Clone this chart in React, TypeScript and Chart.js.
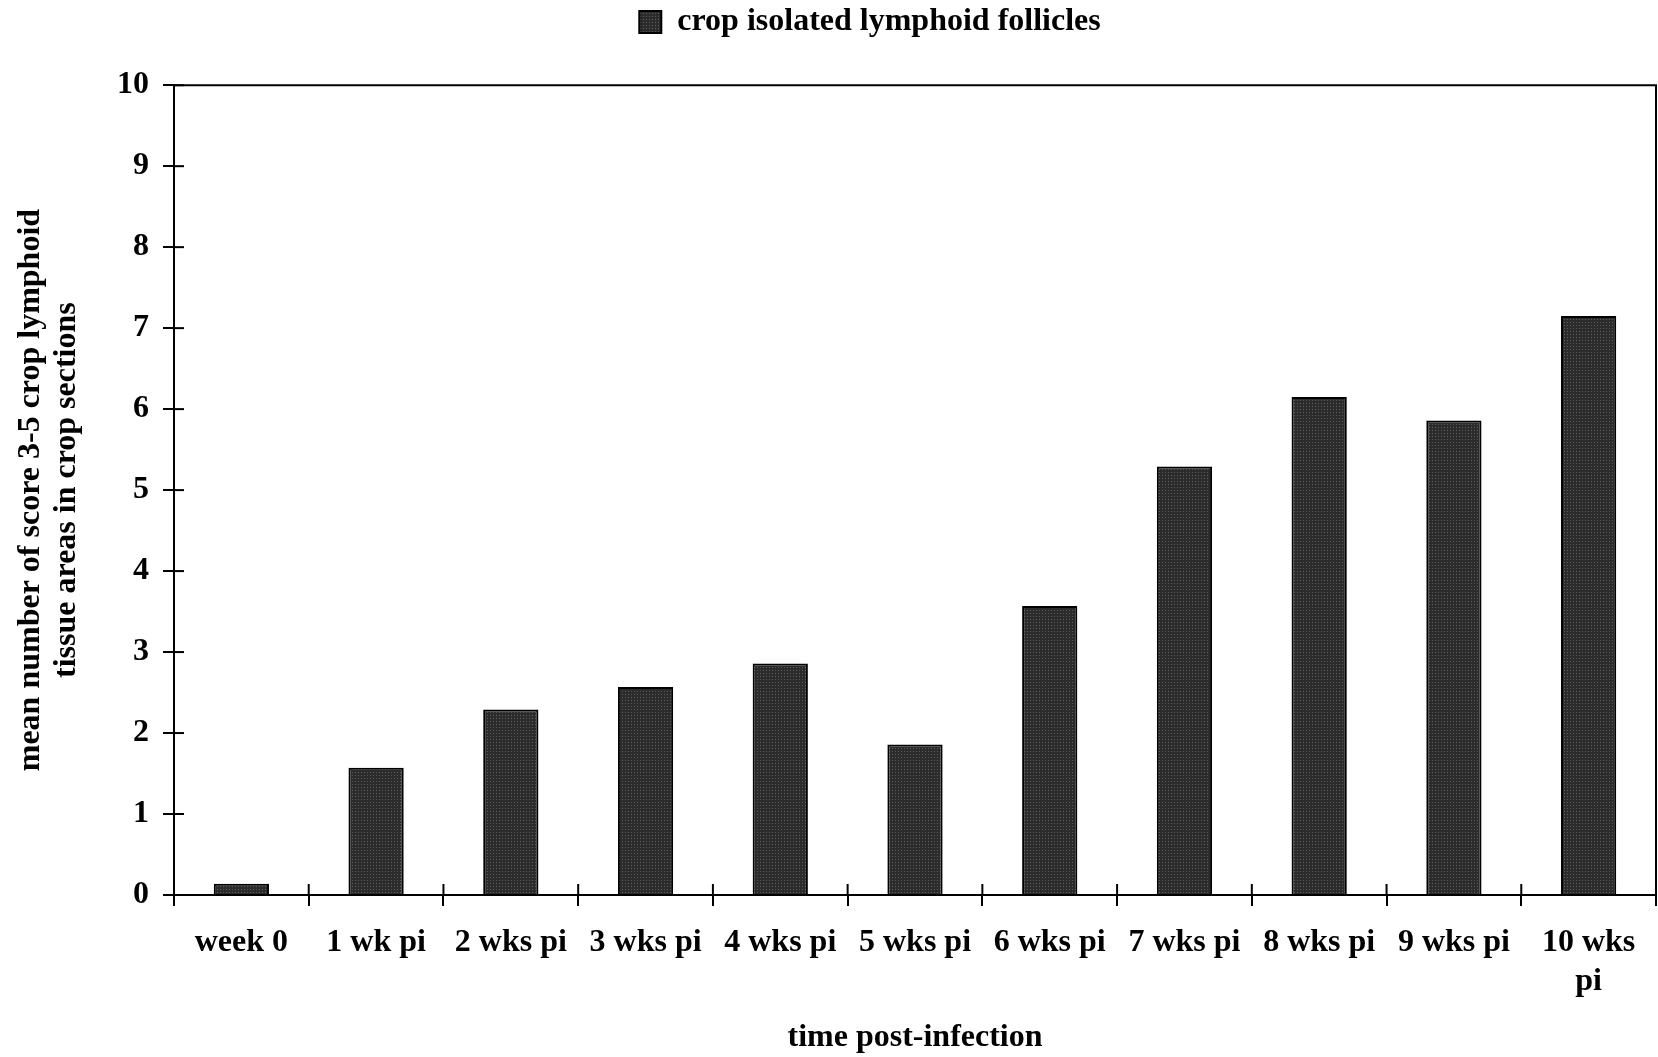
import React, { useEffect, useRef } from "react";
import { Chart, registerables } from "chart.js";

Chart.register(...registerables);

const categories: (string | string[])[] = [
  "week 0",
  "1 wk pi",
  "2 wks pi",
  "3 wks pi",
  "4 wks pi",
  "5 wks pi",
  "6 wks pi",
  "7 wks pi",
  "8 wks pi",
  "9 wks pi",
  ["10 wks", "pi"],
];
const follicleValues = [0.14, 1.57, 2.29, 2.57, 2.86, 1.86, 3.57, 5.29, 6.15, 5.86, 7.15];
const seriesLabel = "crop isolated lymphoid follicles";
const xTitle = "time post-infection";
const yTitle = ["mean number of score 3-5 crop lymphoid", "tissue areas in crop sections"];

const FONT = "'Liberation Serif', 'Times New Roman', serif";

function makePattern(): CanvasPattern | string {
  const c = document.createElement("canvas");
  c.width = 3;
  c.height = 3;
  const g = c.getContext("2d");
  if (!g) return "#333333";
  g.fillStyle = "#2c2c2c";
  g.fillRect(0, 0, 3, 3);
  g.fillStyle = "#5c5c5c";
  g.fillRect(1, 1, 1, 1);
  const p = g.createPattern(c, "repeat");
  return p || "#333333";
}

const legendShift = {
  id: "legendShift",
  afterLayout(chart: any) {
    const lg = chart.legend;
    if (lg) {
      lg.left += 42;
      lg.right += 42;
    }
  },
};

const frameAndTicks = {
  id: "frameAndTicks",
  afterDraw(chart: any) {
    const { ctx, chartArea } = chart;
    const { left, right, top, bottom } = chartArea;
    ctx.save();
    ctx.strokeStyle = "#000";
    ctx.lineWidth = 2;
    ctx.beginPath();
    ctx.moveTo(left, top);
    ctx.lineTo(right, top);
    ctx.lineTo(right, bottom);
    ctx.stroke();
    const y = chart.scales.y;
    y.ticks.forEach((_t: any, i: number) => {
      const py = y.getPixelForTick(i);
      ctx.beginPath();
      ctx.moveTo(left, py);
      ctx.lineTo(left + 10, py);
      ctx.stroke();
    });
    const x = chart.scales.x;
    const n = x.ticks.length;
    for (let i = 1; i < n; i++) {
      const px = (x.getPixelForTick(i - 1) + x.getPixelForTick(i)) / 2;
      ctx.beginPath();
      ctx.moveTo(px, bottom);
      ctx.lineTo(px, bottom - 11);
      ctx.stroke();
    }
    ctx.restore();
  },
};

export default function App() {
  const ref = useRef<HTMLCanvasElement | null>(null);
  useEffect(() => {
    document.body.style.margin = "0";
    const canvas = ref.current;
    if (!canvas) return;
    const pattern = makePattern();
    const chart = new Chart(canvas, {
      type: "bar",
      data: {
        labels: categories,
        datasets: [
          {
            label: seriesLabel,
            data: follicleValues,
            backgroundColor: pattern as any,
            borderColor: "#000",
            borderWidth: 2,
            barPercentage: 0.41,
            categoryPercentage: 1,
          },
        ],
      },
      options: {
        responsive: false,
        animation: false,
        devicePixelRatio: 1,
        layout: { padding: { top: 0, right: 2, left: 0, bottom: 0 } },
        plugins: {
          legend: {
            position: "top",
            weight: 3000,
            labels: {
              color: "#000",
              font: { family: FONT, size: 32, weight: "bold" },
              boxWidth: 22,
              boxHeight: 22,
              padding: 6,
            },
          } as any,
          title: {
            display: true,
            text: "",
            font: { size: 1 },
            padding: { top: 0, bottom: 36 },
          },
          tooltip: { enabled: false },
        },
        scales: {
          x: {
            grid: {
              display: true,
              drawOnChartArea: false,
              offset: true,
              tickLength: 11,
              color: "#000",
              lineWidth: 2,
            },
            border: { color: "#000", width: 2 },
            ticks: {
              color: "#000",
              font: { family: FONT, size: 32, weight: "bold" },
              padding: 18,
              maxRotation: 0,
              autoSkip: false,
            },
            title: {
              display: true,
              text: xTitle,
              color: "#000",
              font: { family: FONT, size: 32, weight: "bold" },
              padding: { top: 18, bottom: 0 },
            },
            afterFit: (s: any) => {
              s.height = 162;
            },
          },
          y: {
            min: 0,
            max: 10,
            grid: {
              display: true,
              drawOnChartArea: false,
              tickLength: 11,
              color: "#000",
              lineWidth: 2,
            },
            border: { color: "#000", width: 2 },
            ticks: {
              stepSize: 1,
              color: "#000",
              font: { family: FONT, size: 32, weight: "bold" },
              padding: 14,
            },
            title: {
              display: true,
              text: yTitle,
              color: "#000",
              font: { family: FONT, size: 32, weight: "bold", lineHeight: 1.15 },
              padding: { top: 12, bottom: 10 },
            },
            afterFit: (s: any) => {
              s.width = 174;
            },
          },
        },
      },
      plugins: [legendShift, frameAndTicks],
    });
    return () => chart.destroy();
  }, []);
  return <canvas ref={ref} width={1658} height={1057} style={{ display: "block" }} />;
}
